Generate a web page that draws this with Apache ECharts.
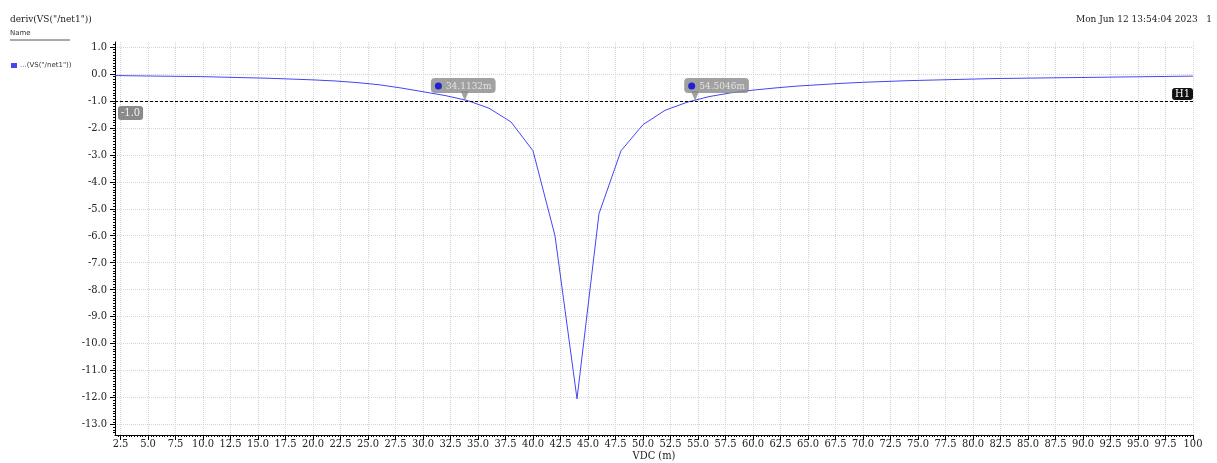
<!DOCTYPE html>
<html>
<head>
<meta charset="utf-8">
<title>deriv(VS("/net1"))</title>
<script src="https://cdn.jsdelivr.net/npm/echarts@6/dist/echarts.min.js"></script>
<style>
  html, body { margin: 0; padding: 0; background: #fff; }
  #chart { width: 1217px; height: 463px; }
</style>
</head>
<body>
<div id="chart"></div>
<script>
// sweep points (VDC, m) and derivative values
const vdc = [2, 4, 6, 8, 10, 12, 14, 16, 18, 20, 22, 24, 26, 28, 30, 32, 34, 36, 38, 40,
  42, 44, 46, 48, 50, 52, 54, 56, 58, 60, 62, 64, 66, 68, 70, 72, 74, 76, 78, 80,
  82, 84, 86, 88, 90, 92, 94, 96, 98, 100]
const deriv = [-0.06, -0.07, -0.08, -0.09, -0.10, -0.12, -0.14, -0.16, -0.19, -0.22,
  -0.26, -0.32, -0.40, -0.52, -0.66, -0.80, -0.98, -1.27, -1.78, -2.85,
  -6.0, -12.05, -5.18, -2.85, -1.88, -1.35, -1.05, -0.84, -0.70, -0.60,
  -0.52, -0.45, -0.40, -0.35, -0.31, -0.28, -0.25, -0.23, -0.21, -0.19,
  -0.17, -0.16, -0.15, -0.14, -0.13, -0.12, -0.11, -0.10, -0.09, -0.08]

const xTickLabels = ['2.5', '5.0', '7.5', '10.0', '12.5', '15.0', '17.5', '20.0', '22.5', '25.0',
  '27.5', '30.0', '32.5', '35.0', '37.5', '40.0', '42.5', '45.0', '47.5', '50.0',
  '52.5', '55.0', '57.5', '60.0', '62.5', '65.0', '67.5', '70.0', '72.5', '75.0',
  '77.5', '80.0', '82.5', '85.0', '87.5', '90.0', '92.5', '95.0', '97.5', '100']
const yTickValues = [1, 0, -1, -2, -3, -4, -5, -6, -7, -8, -9, -10, -11, -12, -13]

// cursor markers and the horizontal marker
const crossX = [34.1132, 54.5046]
const crossLabels = ['34.1132m', '54.5046m']
const hLevel = -1
const hName = 'H1'

const seriesName = '...(VS("/net1"))'
const xMin = 2, xMax = 100, yMin = -13.39, yMax = 1.185

const xTickValues = xTickLabels.map(s => parseFloat(s))
const xMinor = []
for (let v = 2.25; v <= 100; v += 0.25) xMinor.push(+v.toFixed(2))
const yMinor = []
for (let v = -133; v <= 11; v++) yMinor.push(v / 10)

const serif = "'DejaVu Serif Condensed', 'Liberation Serif', serif"
const sans = 'DejaVu Sans'
const lineColor = '#4545f2'

const chart = echarts.init(document.getElementById('chart'))
chart.setOption({
  animation: false,
  title: [{
    text: 'deriv(VS("/net1"))',
    left: 5,
    top: 9,
    textStyle: { fontFamily: serif, fontSize: 10, fontWeight: 'normal', color: '#222' }
  }, {
    text: 'Mon Jun 12 13:54:04 2023   1',
    right: 0,
    top: 9,
    textStyle: { fontFamily: serif, fontSize: 10, fontWeight: 'normal', color: '#222' }
  }],
  legend: {
    data: [seriesName],
    left: 6,
    top: 57,
    icon: 'rect',
    itemWidth: 6,
    itemHeight: 5,
    itemGap: 4,
    textStyle: { fontFamily: sans, fontSize: 7, color: '#333', padding: [0, 0, 0, -2] }
  },
  graphic: [{
    type: 'text',
    left: 10,
    top: 30,
    style: { text: 'Name', font: '7px "DejaVu Sans"', fill: '#333' }
  }, {
    type: 'line',
    shape: { x1: 10, y1: 40, x2: 70, y2: 40 },
    style: { stroke: '#555', lineWidth: 1 }
  }],
  grid: { left: 115, right: 24, top: 42, bottom: 28, containLabel: false, outerBoundsMode: 'none' },
  xAxis: [{
    type: 'value',
    min: xMin,
    max: xMax,
    name: 'VDC (m)',
    nameLocation: 'middle',
    nameGap: 16,
    nameMoveOverlap: false,
    nameTextStyle: { fontFamily: serif, fontSize: 11, color: '#222' },
    axisLine: { show: true, onZero: false, lineStyle: { color: '#000', width: 1 } },
    axisTick: { show: true, length: 5, customValues: xTickValues, lineStyle: { color: '#000' } },
    axisLabel: {
      customValues: xTickValues,
      margin: 4,
      fontFamily: serif,
      fontSize: 11,
      color: '#222',
      formatter: v => xTickLabels[xTickValues.indexOf(v)] ?? ''
    },
    splitLine: { show: true, customValues: xTickValues, lineStyle: { color: '#d4d4d4', type: 'dotted', width: 1 } }
  }, {
    type: 'value',
    min: xMin,
    max: xMax,
    position: 'bottom',
    axisLine: { show: false, onZero: false },
    axisTick: { show: true, length: 2, customValues: xMinor, lineStyle: { color: '#000' } },
    axisLabel: { show: false },
    splitLine: { show: false }
  }],
  yAxis: [{
    type: 'value',
    min: yMin,
    max: yMax,
    axisLine: { show: true, onZero: false, lineStyle: { color: '#000', width: 1 } },
    axisTick: { show: true, length: 5, customValues: yTickValues, lineStyle: { color: '#000' } },
    axisLabel: {
      customValues: yTickValues,
      margin: 8,
      fontFamily: serif,
      fontSize: 11,
      color: '#222',
      formatter: v => v.toFixed(1)
    },
    splitLine: { show: true, customValues: yTickValues, lineStyle: { color: '#d4d4d4', type: 'dotted', width: 1 } }
  }, {
    type: 'value',
    min: yMin,
    max: yMax,
    position: 'left',
    axisLine: { show: false, onZero: false },
    axisTick: { show: true, length: 2, customValues: yMinor, lineStyle: { color: '#000' } },
    axisLabel: { show: false },
    splitLine: { show: false }
  }],
  series: [{
    name: seriesName,
    type: 'line',
    data: vdc.map((x, i) => [x, deriv[i]]),
    symbol: 'none',
    color: lineColor,
    lineStyle: { color: lineColor, width: 1 },
    markLine: {
      silent: true,
      symbol: 'none',
      lineStyle: { color: '#000', type: [3, 2], width: 1 },
      data: [{
        yAxis: hLevel,
        label: {
          position: 'insideStartBottom',
          distance: [3, 5],
          formatter: hLevel.toFixed(1),
          backgroundColor: '#8a8a8a',
          borderRadius: 3,
          padding: [2, 3, 1, 3],
          color: '#f4f4f4',
          fontFamily: serif,
          fontSize: 11
        }
      }, {
        yAxis: hLevel,
        label: {
          position: 'insideEndTop',
          distance: [0, 1],
          formatter: hName,
          backgroundColor: '#111',
          borderRadius: 3,
          padding: [1, 3, 0, 3],
          color: '#fff',
          fontFamily: serif,
          fontSize: 11
        }
      }]
    }
  }, {
    type: 'scatter',
    silent: true,
    z: 5,
    symbol: 'triangle',
    symbolRotate: 180,
    symbolSize: [8, 10],
    itemStyle: { color: '#8a8a8a' },
    data: [
      { value: [crossX[0], hLevel], symbolOffset: [-3.5, -5] },
      { value: [crossX[1], hLevel], symbolOffset: [2.5, -5] }
    ]
  }, {
    type: 'scatter',
    silent: true,
    z: 6,
    symbolSize: 0,
    data: crossX.map((x, i) => ({
      value: [x, hLevel],
      label: { offset: [i === 0 ? -5 : 24, 0] }
    })),
    label: {
      show: true,
      position: 'top',
      distance: 8,
      backgroundColor: '#8a8a8a',
      borderRadius: 4,
      padding: [3, 4, 2, 4],
      formatter: p => '{dot| }{sp| }' + crossLabels[p.dataIndex],
      fontFamily: serif,
      fontSize: 10,
      color: '#f2f2f2',
      rich: {
        dot: { width: 7, height: 7, borderRadius: 4, backgroundColor: '#0000e0' },
        sp: { width: 4 }
      }
    }
  }]
})
</script>
</body>
</html>
